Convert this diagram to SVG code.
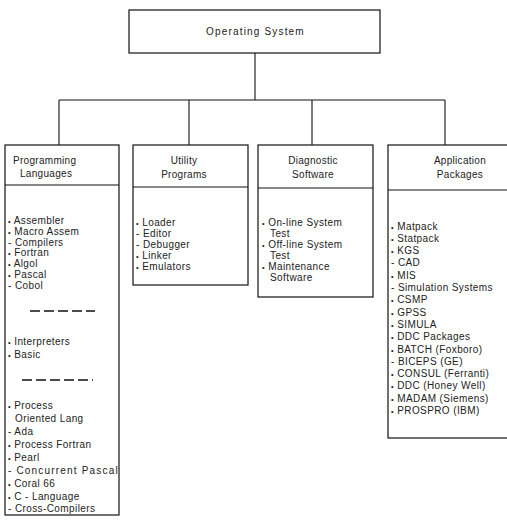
<svg xmlns="http://www.w3.org/2000/svg" width="507" height="522" viewBox="0 0 507 522">
<style>
.box{fill:#fff;stroke:#111;stroke-width:1.2}
.div{stroke:#111;stroke-width:1.1}
.con{stroke:#111;stroke-width:1.1;fill:none}
text{font-family:"Liberation Sans",Arial,sans-serif;fill:#222}
.h{font-size:10px;letter-spacing:0.3px}
.hc{font-size:10px;letter-spacing:0.3px;text-anchor:middle}
.t{font-size:10px;letter-spacing:0.4px}
.b{font-size:7.5px}
.dash{stroke:#111;stroke-width:1.4;stroke-dasharray:10 4}
</style>
<rect width="507" height="522" fill="#fff"/>
<g id="connectors">
<path class="con" d="M255 53V100M59 100H445M59 100V145M189 100V145M312 100V145M445 100V145"/>
</g>
<g id="os">
<rect class="box" x="129" y="10" width="251" height="43"/>
<text class="hc" x="255" y="35" textLength="98" lengthAdjust="spacing">Operating System</text>
</g>
<g id="prog">
<rect class="box" x="5" y="145" width="114" height="370"/>
<line class="div" x1="5" y1="185" x2="119" y2="185"/>
<text class="h" x="13" y="164">Programming</text>
<text class="h" x="20" y="177">Languages</text>
<g class="t">
<text x="8" y="224"><tspan class="b">•</tspan> Assembler</text>
<text x="8" y="234.8"><tspan class="b">•</tspan> Macro Assem</text>
<text x="8" y="245.6">- Compilers</text>
<text x="8" y="256.4"><tspan class="b">•</tspan> Fortran</text>
<text x="8" y="267.2"><tspan class="b">•</tspan> Algol</text>
<text x="8" y="278"><tspan class="b">•</tspan> Pascal</text>
<text x="8" y="288.8">- Cobol</text>
<text x="8" y="344.5"><tspan class="b">•</tspan> Interpreters</text>
<text x="8" y="357.5"><tspan class="b">•</tspan> Basic</text>
<text x="8" y="408.5"><tspan class="b">•</tspan> Process</text>
<text x="15" y="421.5">Oriented Lang</text>
<text x="8" y="434.5">- Ada</text>
<text x="8" y="447.5"><tspan class="b">•</tspan> Process Fortran</text>
<text x="8" y="460.5"><tspan class="b">•</tspan> Pearl</text>
<text x="8" y="473.5" textLength="110" lengthAdjust="spacing">- Concurrent Pascal</text>
<text x="8" y="486.5"><tspan class="b">•</tspan> Coral 66</text>
<text x="8" y="499.5"><tspan class="b">•</tspan> C - Language</text>
<text x="8" y="512">- Cross-Compilers</text>
</g>
<line class="dash" x1="30" y1="311" x2="95" y2="311"/>
<line class="dash" x1="22" y1="380" x2="93" y2="380"/>
</g>
<g id="util">
<rect class="box" x="133" y="145" width="115" height="140"/>
<line class="div" x1="133" y1="187" x2="248" y2="187"/>
<text class="hc" x="184" y="164">Utility</text>
<text class="hc" x="184" y="178">Programs</text>
<g class="t">
<text x="136" y="225.5"><tspan class="b">•</tspan> Loader</text>
<text x="136" y="236.5">- Editor</text>
<text x="136" y="247.5">- Debugger</text>
<text x="136" y="258.5"><tspan class="b">•</tspan> Linker</text>
<text x="136" y="269.5"><tspan class="b">•</tspan> Emulators</text>
</g>
</g>
<g id="diag">
<rect class="box" x="258" y="145" width="115" height="152"/>
<line class="div" x1="258" y1="188" x2="373" y2="188"/>
<text class="hc" x="313" y="164">Diagnostic</text>
<text class="hc" x="313" y="178">Software</text>
<g class="t">
<text x="262" y="225.5"><tspan class="b">•</tspan> On-line System</text>
<text x="270" y="236.5">Test</text>
<text x="262" y="247.5"><tspan class="b">•</tspan> Off-line System</text>
<text x="270" y="258.5">Test</text>
<text x="262" y="269.5"><tspan class="b">•</tspan> Maintenance</text>
<text x="270" y="280.5">Software</text>
</g>
</g>
<g id="app">
<rect class="box" x="388" y="145" width="130" height="293"/>
<line class="div" x1="388" y1="190" x2="507" y2="190"/>
<text class="hc" x="460" y="164">Application</text>
<text class="hc" x="460" y="178">Packages</text>
<g class="t">
<text x="391" y="229.5"><tspan class="b">•</tspan> Matpack</text>
<text x="391" y="241.8"><tspan class="b">•</tspan> Statpack</text>
<text x="391" y="254.1"><tspan class="b">•</tspan> KGS</text>
<text x="391" y="266.4">- CAD</text>
<text x="391" y="278.7"><tspan class="b">•</tspan> MIS</text>
<text x="391" y="291">- Simulation Systems</text>
<text x="391" y="303.3"><tspan class="b">•</tspan> CSMP</text>
<text x="391" y="315.6"><tspan class="b">•</tspan> GPSS</text>
<text x="391" y="327.9"><tspan class="b">•</tspan> SIMULA</text>
<text x="391" y="340.2"><tspan class="b">•</tspan> DDC Packages</text>
<text x="391" y="352.5"><tspan class="b">•</tspan> BATCH (Foxboro)</text>
<text x="391" y="364.8">- BICEPS (GE)</text>
<text x="391" y="377.1"><tspan class="b">•</tspan> CONSUL (Ferranti)</text>
<text x="391" y="389.4"><tspan class="b">•</tspan> DDC (Honey Well)</text>
<text x="391" y="401.7"><tspan class="b">•</tspan> MADAM (Siemens)</text>
<text x="391" y="414"><tspan class="b">•</tspan> PROSPRO (IBM)</text>
</g>
</g>
</svg>
